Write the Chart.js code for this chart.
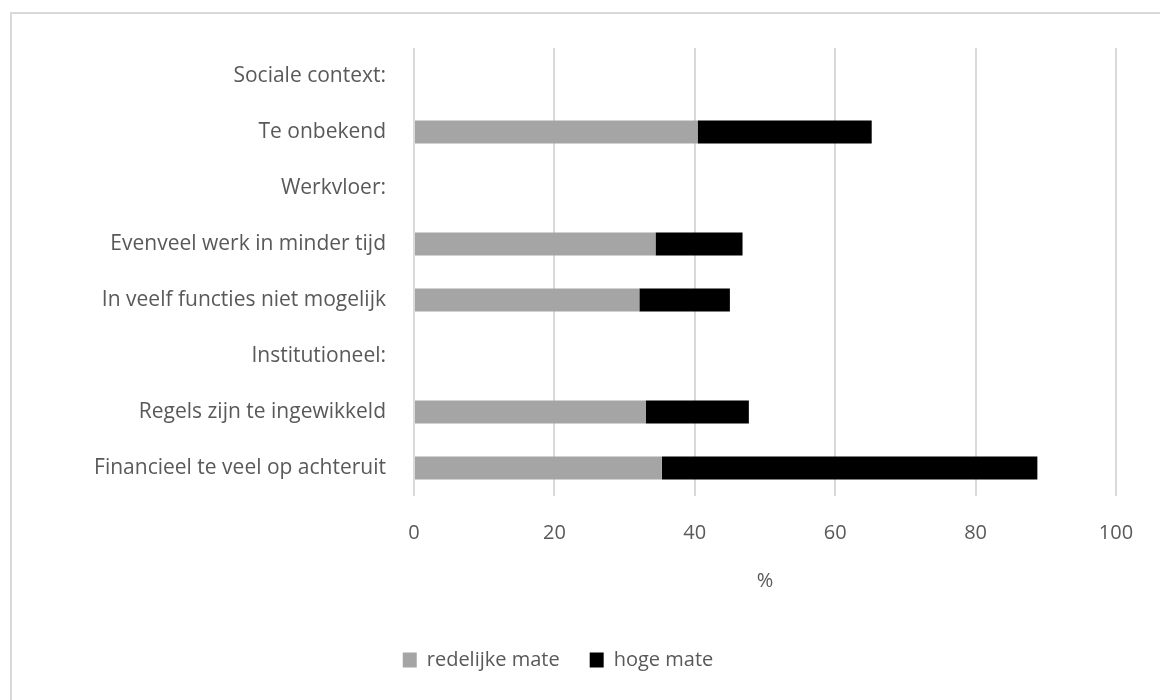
<!DOCTYPE html>
<html>
<head>
<meta charset="utf-8">
<script src="https://cdn.jsdelivr.net/npm/chart.js@4"></script>
<style>
  html, body { margin: 0; padding: 0; background: #fff; }
  #wrap { width: 1160px; height: 700px; position: relative; }
</style>
</head>
<body>
<div id="wrap"><canvas id="canvas"></canvas></div>
<script>
var categories = [
  'Sociale context:',
  'Te onbekend',
  'Werkvloer:',
  'Evenveel werk in minder tijd',
  'In veelf functies niet mogelijk',
  'Institutioneel:',
  'Regels zijn te ingewikkeld',
  'Financieel te veel op achteruit'
];
var redelijk = [null, 40.4, null, 34.4, 32.1, null, 33.0, 35.3];
var hoog = [null, 24.8, null, 12.4, 12.9, null, 14.7, 53.5];
var xTicks = [0, 20, 40, 60, 80, 100];

var textColor = '#595959';
var gridColor = '#d9d9d9';
var fontFamily = '"Open Sans", "Noto Sans", sans-serif';

// light grey frame like the spreadsheet chart area
var framePlugin = {
  id: 'frame',
  beforeDraw: function(chart) {
    var ctx = chart.ctx;
    ctx.save();
    ctx.strokeStyle = gridColor;
    ctx.lineWidth = 2;
    ctx.beginPath();
    ctx.moveTo(11, chart.height + 5);
    ctx.lineTo(11, 13);
    ctx.lineTo(chart.width + 5, 13);
    ctx.stroke();
    ctx.restore();
  }
};

window.onload = function() {
  var ctx = document.getElementById('canvas').getContext('2d');
  window.myBar = new Chart(ctx, {
    type: 'bar',
    data: {
      labels: categories,
      datasets: [{
        label: 'redelijke mate',
        data: redelijk,
        backgroundColor: '#a5a5a5',
        barPercentage: 0.82,
        categoryPercentage: 0.5
      }, {
        label: 'hoge mate',
        data: hoog,
        backgroundColor: '#000000',
        barPercentage: 0.82,
        categoryPercentage: 0.5
      }]
    },
    options: {
      indexAxis: 'y',
      responsive: true,
      maintainAspectRatio: false,
      animation: false,
      layout: { padding: { top: 48, right: 44, bottom: 20, left: 0 } },
      plugins: {
        legend: {
          position: 'bottom',
          labels: {
            color: textColor,
            font: { family: fontFamily, size: 20 },
            boxWidth: 14,
            boxHeight: 15,
            padding: 30
          }
        },
        tooltip: { enabled: false }
      },
      scales: {
        x: {
          stacked: true,
          min: 0,
          max: 100,
          afterBuildTicks: function(scale) {
            scale.ticks = xTicks.map(function(v) { return { value: v }; });
          },
          afterFit: function(scale) { scale.height = 124; },
          border: { display: false },
          grid: { color: gridColor, lineWidth: 2, drawTicks: false },
          ticks: {
            color: textColor,
            font: { family: fontFamily, size: 20 },
            padding: 25
          },
          title: {
            display: true,
            text: '%',
            color: textColor,
            font: { family: fontFamily, size: 20 },
            padding: { top: 4, bottom: 27 }
          }
        },
        y: {
          stacked: true,
          afterFit: function(scale) { scale.width = 414; },
          border: { display: false },
          grid: { display: false, drawTicks: false },
          ticks: {
            color: textColor,
            font: { family: fontFamily, size: 21 },
            padding: 28,
            autoSkip: false
          }
        }
      }
    },
    plugins: [framePlugin]
  });
};
</script>
</body>
</html>
